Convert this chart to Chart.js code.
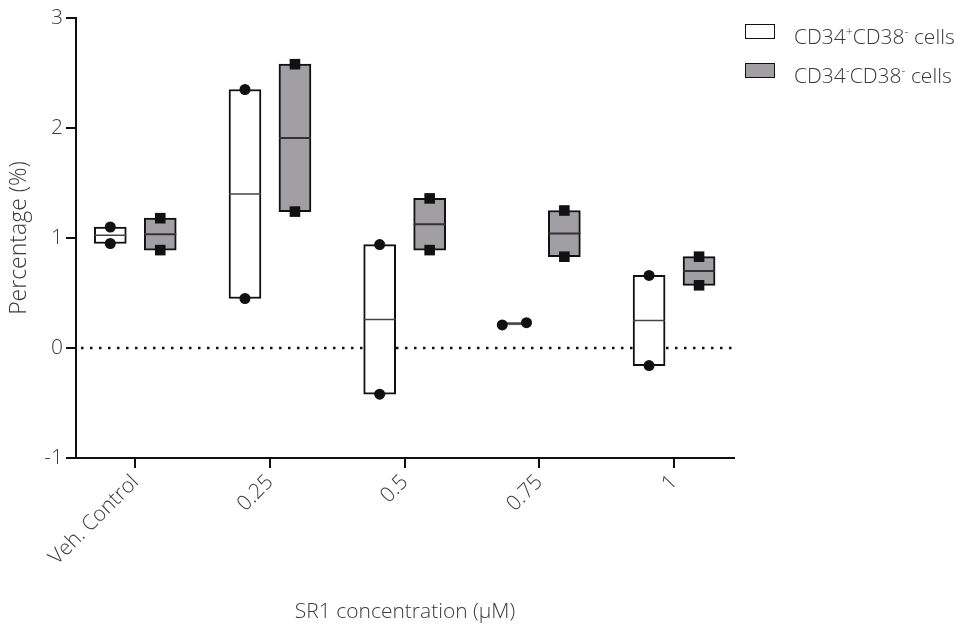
<!DOCTYPE html>
<html>
<head>
<meta charset="utf-8">
<title>SR1 concentration</title>
<script src="https://cdn.jsdelivr.net/npm/chart.js@4.4.1/dist/chart.umd.min.js"></script>
<style>
  html, body { margin: 0; padding: 0; background: #fff; }
  .wrap { position: relative; width: 971px; height: 629px; }
  canvas { position: absolute; left: 0; top: 0; }
  .legend { position: absolute; left: 745px; top: 24px; font-family: 'Open Sans', sans-serif; font-weight: 300; font-size: 21px; color: #3a3a3a; }
  .legend .row { position: relative; height: 39px; }
  .legend .box { position: absolute; left: 0; top: 0; width: 28px; height: 13px; border: 1.5px solid #111; }
  .legend .txt { position: absolute; left: 49px; top: -2px; line-height: 28px; white-space: nowrap; }
  .legend sup { font-size: 12px; vertical-align: 8px; line-height: 0; }
</style>
</head>
<body>
<div class="wrap">
  <canvas id="chart" width="971" height="629"></canvas>
  <div class="legend">
    <div class="row"><span class="box" style="background:#fff"></span><span class="txt">CD34<sup>+</sup>CD38<sup>-</sup> cells</span></div>
    <div class="row"><span class="box" style="background:#a19fa4"></span><span class="txt">CD34<sup>-</sup>CD38<sup>-</sup> cells</span></div>
  </div>
</div>
<script>
// ─── Data: two replicates per group ───────────────────────────
const CATEGORIES = ['Veh. Control', '0.25', '0.5', '0.75', '1'];
const POS_REP1 = [1.10, 2.35, 0.94, 0.21, 0.66];   // CD34+CD38- cells
const POS_REP2 = [0.95, 0.45, -0.42, 0.23, -0.16];
const NEG_REP1 = [1.18, 2.58, 1.36, 1.25, 0.83];   // CD34-CD38- cells
const NEG_REP2 = [0.89, 1.24, 0.89, 0.83, 0.57];
const Y_TICKS = [-1, 0, 1, 2, 3];

// ─── Layout constants ─────────────────────────────────────────
const GROUP_OFFSET = 0.1855;   // box centre offset from the category, in category units
const BOX_WIDTH = 32;
const WHITE = '#ffffff';
const GREY = '#a19fa4';
const INK = '#111111';
const TEXT = '#3a3a3a';
const FONT = "'Open Sans', sans-serif";

const median = (a, b) => (a + b) / 2;

function boxData(r1, r2, side) {
  return CATEGORIES.map((_, i) => ({
    x: i + side * GROUP_OFFSET,
    y: [Math.min(r1[i], r2[i]), Math.max(r1[i], r2[i])]
  }));
}
function medianData(r1, r2, side) {
  return CATEGORIES.map((_, i) => ({ x: i + side * GROUP_OFFSET, y: median(r1[i], r2[i]) }));
}
// replicate points; nearly equal values are spread sideways so both stay visible
function pointData(r1, r2, side) {
  const pts = [];
  CATEGORIES.forEach((_, i) => {
    const c = i + side * GROUP_OFFSET;
    const spread = Math.abs(r1[i] - r2[i]) < 0.08 ? 0.09 : 0;
    pts.push({ x: c - spread, y: r1[i] });
    pts.push({ x: c + spread, y: r2[i] });
  });
  return pts;
}

// dotted reference line at y = 0, drawn behind the boxes
const zeroLine = {
  id: 'zeroLine',
  beforeDatasetsDraw(chart) {
    const { ctx, chartArea, scales } = chart;
    const y = Math.round(scales.y.getPixelForValue(0));
    ctx.save();
    ctx.strokeStyle = INK;
    ctx.lineWidth = 2.5;
    ctx.setLineDash([2.5, 6.5]);
    ctx.beginPath();
    ctx.moveTo(chartArea.left + 5, y);
    ctx.lineTo(chartArea.right, y);
    ctx.stroke();
    ctx.restore();
  }
};

const tickFont = { family: FONT, size: 21, weight: 300 };

new Chart(document.getElementById('chart'), {
  type: 'bar',
  data: {
    datasets: [
      { type: 'scatter', data: pointData(POS_REP1, POS_REP2, -1), pointStyle: 'circle', pointRadius: 5.5,
        backgroundColor: INK, borderColor: INK, borderWidth: 0, order: 1 },
      { type: 'scatter', data: pointData(NEG_REP1, NEG_REP2, 1), pointStyle: 'rect', pointRadius: 7.5,
        backgroundColor: INK, borderColor: INK, borderWidth: 0, order: 1 },
      { type: 'scatter', data: medianData(POS_REP1, POS_REP2, -1), pointStyle: 'line', pointRadius: BOX_WIDTH / 2,
        borderColor: '#444', borderWidth: 1.5, order: 2 },
      { type: 'scatter', data: medianData(NEG_REP1, NEG_REP2, 1), pointStyle: 'line', pointRadius: BOX_WIDTH / 2,
        borderColor: '#333', borderWidth: 2, order: 2 },
      { label: 'CD34+CD38- cells', data: boxData(POS_REP1, POS_REP2, -1), backgroundColor: WHITE,
        borderColor: INK, borderWidth: 2, borderSkipped: false, grouped: false, barThickness: BOX_WIDTH, order: 3 },
      { label: 'CD34-CD38- cells', data: boxData(NEG_REP1, NEG_REP2, 1), backgroundColor: GREY,
        borderColor: INK, borderWidth: 2, borderSkipped: false, grouped: false, barThickness: BOX_WIDTH, order: 3 }
    ]
  },
  options: {
    responsive: false,
    animation: false,
    events: [],
    layout: { padding: { top: 18, right: 237, left: 0, bottom: 0 } },
    plugins: { legend: { display: false }, tooltip: { enabled: false } },
    scales: {
      x: {
        type: 'linear',
        offset: false,
        min: -0.44,
        max: 4.445,
        afterFit: s => { s.height = 171; },
        afterBuildTicks: s => { s.ticks = CATEGORIES.map((_, i) => ({ value: i })); },
        border: { display: true, color: INK, width: 2 },
        grid: { display: true, offset: false, drawOnChartArea: false, drawTicks: true, tickLength: 10, color: INK, lineWidth: 2 },
        ticks: {
          minRotation: 45, maxRotation: 45, padding: 2,
          color: TEXT, font: tickFont,
          callback: v => CATEGORIES[v]
        },
        title: {
          display: true, text: 'SR1 concentration (\u03bcM)',
          color: TEXT, font: { family: FONT, size: 21, weight: 300 }, padding: { top: 0, bottom: 4 }
        }
      },
      y: {
        min: -1,
        max: 3,
        afterFit: s => { s.width = 76; },
        afterBuildTicks: s => { s.ticks = Y_TICKS.map(v => ({ value: v })); },
        border: { display: true, color: INK, width: 2 },
        grid: { display: true, drawOnChartArea: false, drawTicks: true, tickLength: 10, color: INK, lineWidth: 2 },
        ticks: { padding: 3, color: TEXT, font: tickFont },
        title: {
          display: true, text: 'Percentage (%)',
          color: TEXT, font: { family: FONT, size: 23, weight: 300 }, padding: { top: 6, bottom: 0 }
        }
      }
    }
  },
  plugins: [zeroLine]
});
</script>
</body>
</html>
